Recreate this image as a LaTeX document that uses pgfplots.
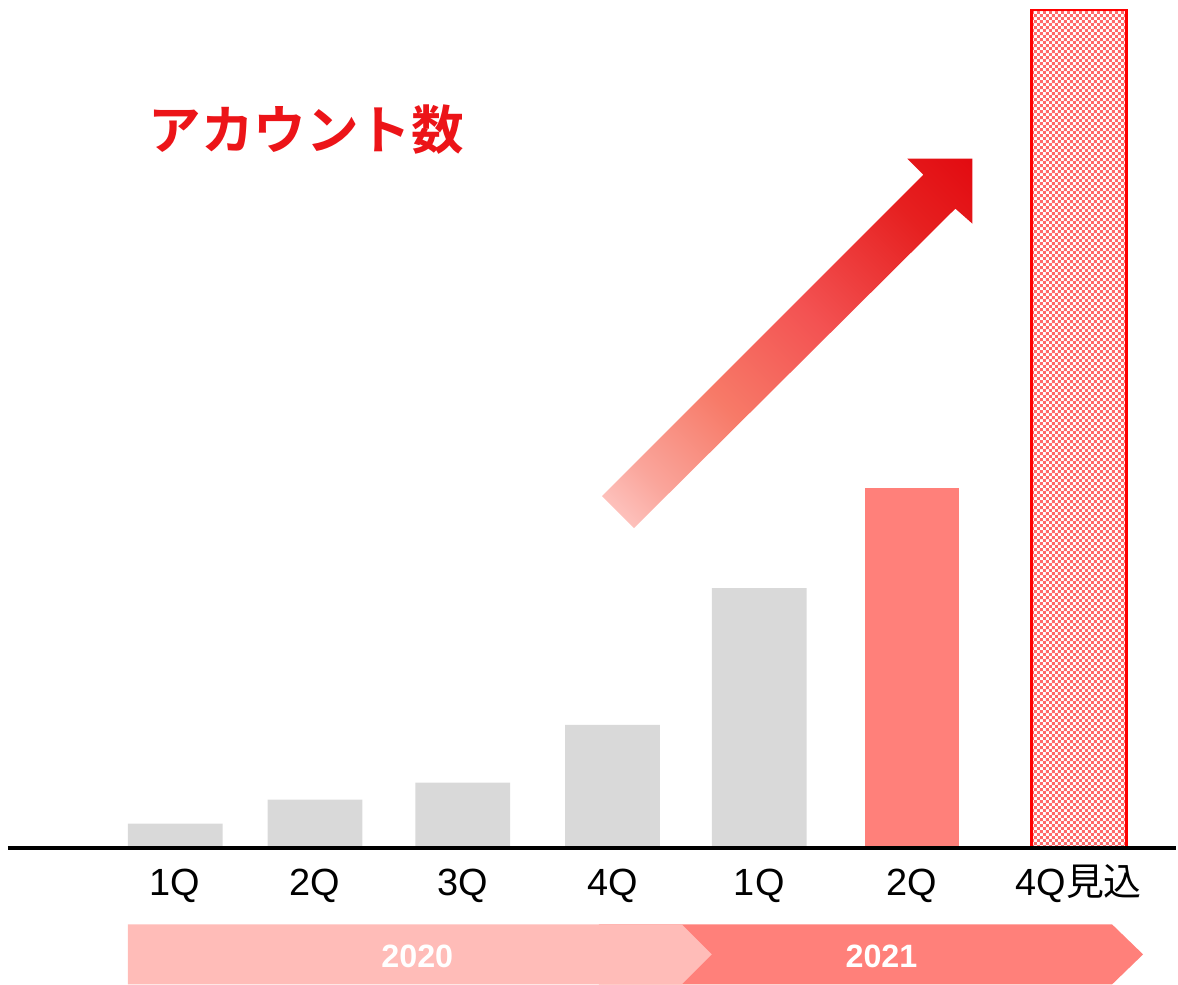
\documentclass[border=0pt]{standalone}
\usepackage{pgfplots}
\pgfplotsset{compat=1.18}
\usepackage{fontspec}
\setmainfont{Liberation Sans}
\newfontfamily\cjk{Noto Sans CJK JP}
\newfontfamily\cjkbold{Noto Sans CJK JP Bold}
\usetikzlibrary{patterns}
\definecolor{greybar}{RGB}{217,217,217}
\definecolor{salmon}{RGB}{255,128,122}
\definecolor{palepink}{RGB}{255,188,184}
\definecolor{titlered}{RGB}{236,20,24}
\definecolor{checkred}{RGB}{255,105,105}
\definecolor{a1}{RGB}{255,212,210}
\definecolor{a15}{RGB}{250,165,155}
\definecolor{a2}{RGB}{247,122,104}
\definecolor{a25}{RGB}{243,82,82}
\definecolor{a28}{RGB}{230,32,32}
\definecolor{a3}{RGB}{226,10,16}
\pgfdeclarepatternformonly{finecheck}{\pgfpointorigin}{\pgfqpoint{1.7pt}{1.7pt}}{\pgfqpoint{1.7pt}{1.7pt}}{%
  \pgfpathrectangle{\pgfpointorigin}{\pgfqpoint{0.85pt}{0.85pt}}%
  \pgfpathrectangle{\pgfqpoint{0.85pt}{0.85pt}}{\pgfqpoint{0.85pt}{0.85pt}}%
  \pgfusepath{fill}}
\pgfdeclareverticalshading{arrowshade}{100bp}{color(0bp)=(a1); color(13bp)=(a1); color(24bp)=(a15); color(38bp)=(a2); color(55bp)=(a25); color(74bp)=(a28); color(86bp)=(a3); color(100bp)=(a3)}
\begin{document}
\begin{tikzpicture}
\begin{axis}[
  scale only axis, width=11.78cm, height=9.86cm,
  xmin=0, xmax=1178, ymin=-137, ymax=849,
  axis x line=middle, axis y line=none,
  x axis line style={draw=none},
  ybar, bar width=95,
  xtick={175.5,315.5,463.5,613.5,760.5,913.5,1080.5},
  xticklabels={1Q,2Q,3Q,4Q,1Q,2Q,{4Q{\cjk 見込}}},
  major tick length=0pt,
  xticklabel style={font=\fontsize{10.8pt}{12pt}\selectfont, anchor=base, yshift=-0.48cm, inner sep=0pt},
  clip=false,
]
\path (rel axis cs:0,0) rectangle (rel axis cs:1,1);
% year chevrons
\fill[salmon] (axis cs:600,-77) -- (axis cs:1114,-77) -- (axis cs:1145,-107) -- (axis cs:1114,-137) -- (axis cs:600,-137) -- cycle;
\fill[palepink] (axis cs:128,-77) -- (axis cs:683,-77) -- (axis cs:713,-107) -- (axis cs:683,-137) -- (axis cs:128,-137) -- cycle;
\node[white, font=\bfseries\fontsize{9.2pt}{10pt}\selectfont] at (axis cs:418,-109) {2020};
\node[white, font=\bfseries\fontsize{9.2pt}{10pt}\selectfont] at (axis cs:883,-109) {2021};
% bars
\addplot[fill=greybar, draw=none, bar shift=0pt] coordinates {(175.5,24) (315.5,48) (463.5,65) (613.5,123) (760.5,260)};
\addplot[fill=salmon, draw=none, bar shift=0pt] coordinates {(913.5,360)};
\addplot[fill=white, draw=red, line width=0.8pt, bar shift=0pt, postaction={pattern=finecheck, pattern color=checkred}] coordinates {(1080.5,839)};
% baseline
\draw[black, line width=0.4mm] (axis cs:8,0) -- (axis cs:1178,0);
% arrow
\shade[shading=arrowshade, shading angle=-45] (axis cs:603,352) -- (axis cs:925,674) -- (axis cs:909,690) -- (axis cs:974,690) -- (axis cs:974,625) -- (axis cs:957,640) -- (axis cs:635,320) -- cycle;
% title
\node[anchor=west, text=titlered, font=\cjkbold\fontsize{15pt}{16pt}\selectfont, inner sep=0pt] at (axis cs:148,719) {アカウント数};
\end{axis}
\end{tikzpicture}
\end{document}
